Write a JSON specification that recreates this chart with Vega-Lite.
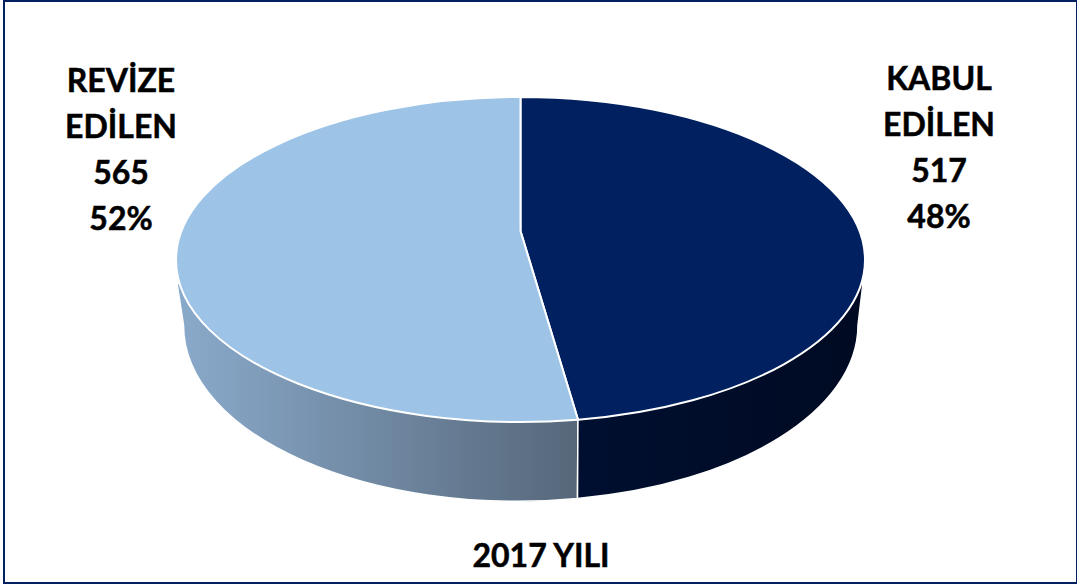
{
  "$schema": "https://vega.github.io/schema/vega-lite/v6.json",
  "width": 1073,
  "height": 582,
  "autosize": {"type": "none"},
  "padding": {"left": 4, "top": 1, "right": 0, "bottom": 5},
  "background": "white",
  "view": {"stroke": "#002060", "strokeWidth": 2, "fill": "white"},
  "datasets": {
    "slices": [
      {"slice": "KABUL EDİLEN", "value": 517, "share": 48, "label": "KABUL\nEDİLEN\n517\n48%"},
      {"slice": "REVİZE EDİLEN", "value": 565, "share": 52, "label": "REVİZE\nEDİLEN\n565\n52%"}
    ]
  },
  "data": {"name": "slices"},
  "encoding": {
    "x": {"datum": 0, "type": "quantitative", "axis": null, "scale": {"domain": [-516.5, 556.5], "nice": false, "zero": false}},
    "y": {"datum": 0, "type": "quantitative", "axis": null, "scale": {"domain": [-259, 323], "reverse": true, "nice": false, "zero": false}}
  },
  "layer": [
    {
      "transform": [{"filter": "datum.value === 565"}],
      "mark": {
        "type": "point", "filled": true, "opacity": 1, "size": 4,
        "shape": "M-343.5,23 L-337,65 C-337,176 -148.9,258 57,238.4 L57.5,150 L-343.5,23 Z",
        "stroke": "white", "strokeWidth": 1.5,
        "fill": {"gradient": "linear", "x1": 0, "y1": 0, "x2": 1, "y2": 0,
          "stops": [{"offset": 0, "color": "#8AAACB"}, {"offset": 1, "color": "#56677A"}]}
      }
    },
    {
      "transform": [{"filter": "datum.value === 517"}],
      "mark": {
        "type": "point", "filled": true, "opacity": 1, "size": 4,
        "shape": "M342.5,23 L337.5,65 C337.5,150.7 218.8,223.9 57,238.4 L57.5,150 L342.5,23 Z",
        "stroke": "white", "strokeWidth": 1.5,
        "fill": {"gradient": "linear", "x1": 0, "y1": 0, "x2": 1, "y2": 0,
          "stops": [{"offset": 0, "color": "#000F30"}, {"offset": 1, "color": "#000A22"}]}
      }
    },
    {
      "mark": {"type": "point", "filled": true, "opacity": 1, "size": 4, "stroke": "white", "strokeWidth": 2},
      "encoding": {
        "shape": {"field": "slice", "type": "nominal", "legend": null, "scale": {
          "domain": ["KABUL EDİLEN", "REVİZE EDİLEN"],
          "range": [
            "M0,-29 L0,-163 C190,-163 344.5,-90 344.5,0 C344.5,79 222.7,146.5 57.5,159.7 Z",
            "M0,-29 L57.5,159.7 C-152.2,176.5 -344.5,100.3 -344.5,0 C-344.5,-90 -190,-163 0,-163 Z"
          ]}},
        "color": {"field": "slice", "type": "nominal", "legend": null, "scale": {
          "domain": ["KABUL EDİLEN", "REVİZE EDİLEN"],
          "range": ["#002060", "#9DC3E6"]}}
      }
    },
    {
      "transform": [{"filter": "datum.value === 517"}],
      "mark": {"type": "text", "font": "Lato", "fontWeight": "bold", "fontSize": 32, "lineBreak": "\n", "lineHeight": 46, "align": "center", "baseline": "alphabetic", "color": "black", "stroke": "black", "strokeWidth": 0.5},
      "encoding": {
        "x": {"datum": 418.5, "type": "quantitative"},
        "y": {"datum": -170, "type": "quantitative"},
        "text": {"field": "label", "type": "nominal"}
      }
    },
    {
      "transform": [{"filter": "datum.value === 565"}],
      "mark": {"type": "text", "font": "Lato", "fontWeight": "bold", "fontSize": 32, "lineBreak": "\n", "lineHeight": 46, "align": "center", "baseline": "alphabetic", "color": "black", "stroke": "black", "strokeWidth": 0.5},
      "encoding": {
        "x": {"datum": -399.5, "type": "quantitative"},
        "y": {"datum": -168, "type": "quantitative"},
        "text": {"field": "label", "type": "nominal"}
      }
    },
    {
      "data": {"values": [{"year": "2017 YILI"}]},
      "mark": {"type": "text", "font": "Lato", "fontWeight": "bold", "fontSize": 32, "align": "center", "baseline": "alphabetic", "color": "black", "stroke": "black", "strokeWidth": 0.5},
      "encoding": {
        "x": {"datum": 20.5, "type": "quantitative"},
        "y": {"datum": 307, "type": "quantitative"},
        "text": {"field": "year", "type": "nominal"}
      }
    }
  ]
}
